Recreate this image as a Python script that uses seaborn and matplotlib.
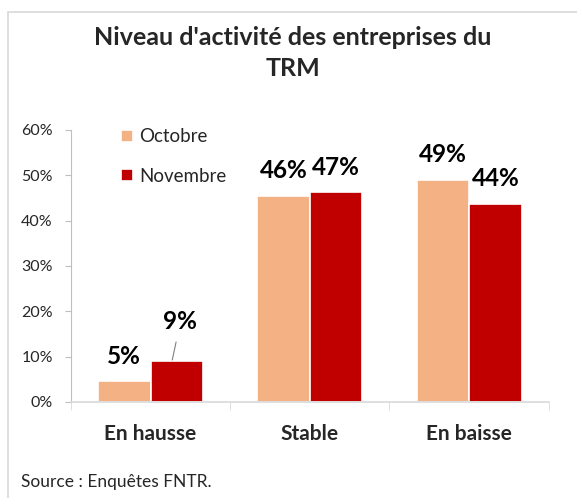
import numpy as np
import pandas as pd
import matplotlib
matplotlib.use("Agg")
import matplotlib.pyplot as plt
from matplotlib.patches import Rectangle
from matplotlib.ticker import PercentFormatter
import seaborn as sns

# data
categories = ["En hausse", "Stable", "En baisse"]
months = ["Octobre", "Novembre"]
octobre = [4.5, 45.5, 49.0]
novembre = [9.1, 46.3, 43.7]
labels_oct = ["5%", "46%", "49%"]
labels_nov = ["9%", "47%", "44%"]
colors = {"Octobre": "#F4B183", "Novembre": "#C00000"}

df = pd.DataFrame({
    "categorie": categories * 2,
    "mois": [months[0]] * 3 + [months[1]] * 3,
    "valeur": octobre + novembre,
})

sns.set_style("white")
plt.rcParams["font.family"] = ["Lato", "DejaVu Sans"]

fig = plt.figure(figsize=(5.77, 4.98), dpi=100)
ax = fig.add_axes([0.123, 0.193, 0.828, 0.546])

sns.barplot(data=df, x="categorie", y="valeur", hue="mois", order=categories,
            hue_order=months, palette=colors, saturation=1, width=0.66,
            edgecolor="white", linewidth=1.2, ax=ax)

ax.set_ylim(0, 60)
ax.set_xlim(-0.5, 2.5)
ax.set_yticks(np.arange(0, 61, 10))
ax.yaxis.set_major_formatter(PercentFormatter(decimals=0))
ax.tick_params(axis="y", left=True, length=4, color="#BFBFBF", labelsize=11.5,
               pad=9, labelcolor="#262626")
ax.set_xticks(range(3))
ax.set_xticklabels(categories, fontsize=15, fontweight="bold")
ax.tick_params(axis="x", length=0, pad=16)
ax.set_xticks([-0.5, 0.5, 1.5, 2.5], minor=True)
ax.tick_params(axis="x", which="minor", bottom=True, length=6, color="#D9D9D9")
ax.set_xlabel("")
ax.set_ylabel("")

for side in ["top", "right"]:
    ax.spines[side].set_visible(False)
ax.spines["left"].set_color("#BFBFBF")
ax.spines["bottom"].set_color("#D9D9D9")
ax.spines["bottom"].set_linewidth(1.2)

# data labels
oct_bars, nov_bars = ax.containers[0], ax.containers[1]
for bar, txt in zip(oct_bars, labels_oct):
    ax.annotate(txt, (bar.get_x() + bar.get_width() / 2, bar.get_height()),
                xytext=(0, 18), textcoords="offset points", ha="center",
                va="center", fontsize=17.5, fontweight="bold", color="black")
for i, (bar, txt) in enumerate(zip(nov_bars, labels_nov)):
    x = bar.get_x() + bar.get_width() / 2
    if i == 0:
        ax.annotate(txt, (x - 0.03, bar.get_height()),
                    xytext=(6, 28), textcoords="offset points", ha="center",
                    va="center", fontsize=17.5, fontweight="bold", color="black",
                    arrowprops=dict(arrowstyle="-", color="#808080", lw=0.8,
                                    shrinkA=4, shrinkB=0.5))
    else:
        ax.annotate(txt, (x, bar.get_height()),
                    xytext=(0, 18), textcoords="offset points", ha="center",
                    va="center", fontsize=17.5, fontweight="bold", color="black")

h, l = ax.get_legend_handles_labels()
ax.legend(h, l, loc="upper left", bbox_to_anchor=(0.07, 1.068), frameon=False,
          fontsize=13.5, handlelength=0.6, handleheight=0.6, handletextpad=0.35,
          labelspacing=1.2)

fig.text(0.508, 0.894, "Niveau d'activité des entreprises du\nTRM", ha="center",
         va="center", fontsize=18, fontweight="bold", linespacing=1.42)
fig.text(0.037, 0.032, "Source : Enquêtes FNTR.", ha="left", va="center",
         fontsize=12.5, color="#262626")

fig.patches.append(Rectangle((8 / 577, -0.1), 1.2, 1 - 12 / 498 + 0.1,
                             transform=fig.transFigure, fill=False,
                             edgecolor="#D9D9D9", linewidth=1.2))

fig.savefig("out.png", dpi=100)
